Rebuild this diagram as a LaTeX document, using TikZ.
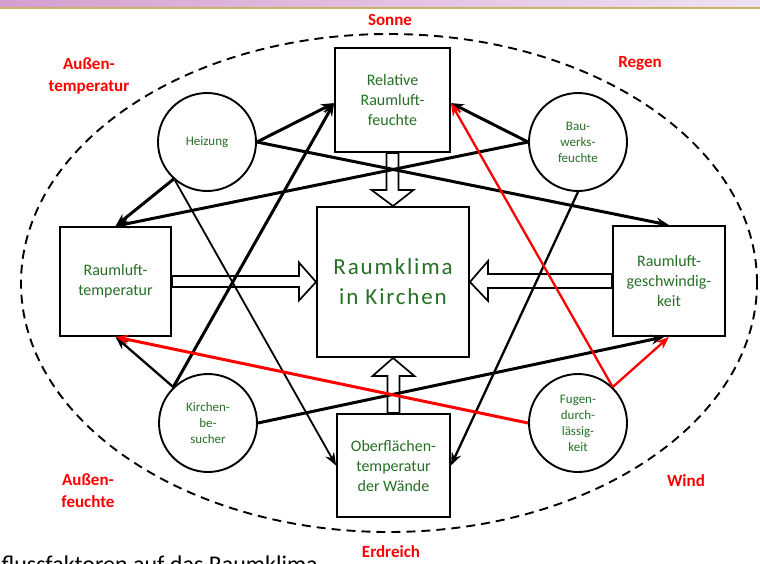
\documentclass[tikz,border=0pt]{standalone}
\usepackage{fontspec}
\setmainfont{Carlito}
\usetikzlibrary{arrows.meta,calc}
\definecolor{kgreen}{RGB}{38,112,38}
\definecolor{kred}{RGB}{255,0,0}
\definecolor{barL}{RGB}{214,158,208}
\definecolor{barR}{RGB}{238,226,242}
\definecolor{goldline}{RGB}{201,177,102}
\newcommand\bxfont{\fontsize{16}{20}\selectfont}
\newcommand\crfont{\fontsize{13}{16}\selectfont}
\newcommand\lbfont{\fontsize{17}{22}\selectfont\bfseries}
\newcommand\ctfont{\fontsize{23}{30}\selectfont\addfontfeature{LetterSpace=8}}
\begin{document}
\begin{tikzpicture}[x=1pt,y=-1pt,
  box/.style={draw,line width=1.9pt,fill=white,inner sep=0pt,align=center,text=kgreen,font=\bxfont},
  circ/.style={draw,circle,line width=1.9pt,fill=white,inner sep=0pt,minimum size=98pt,align=center,text=kgreen,font=\crfont},
  outer/.style={text=kred,font=\lbfont,align=center,inner sep=0pt},
  blockarr/.style={draw,line width=1.7pt,fill=white,line join=miter},
  khead/.style={-{Stealth[length=13pt,width=10pt,inset=4.5pt]}},
  conn/.style={khead,line width=3pt},
  connmid/.style={khead,line width=2.3pt},
  connthin/.style={khead,line width=1.8pt},
  redconn/.style={khead,draw=kred,line width=3pt},
  redmid/.style={khead,draw=kred,line width=2.3pt}]
\useasboundingbox (0,0) rectangle (760,563);
\clip (0,0) rectangle (760,563);
\fill[white] (0,0) rectangle (760,563);
% header bar
\shade[left color=barL, right color=barR] (0,0) rectangle (760,6.5);
\draw[goldline, line width=2pt] (0,8.3) -- (760,8.3);
% boundary ellipse
\draw[line width=1.9pt, dash pattern=on 9pt off 6pt] (389,283) ellipse [x radius=368pt, y radius=249pt];
% outer labels
\node[outer] (sonne) at (390,20) {Sonne};
\node[outer] (ausst) at (89,76) {Außen-\\temperatur};
\node[outer] (regen) at (640,63) {Regen};
\node[outer] (aussf) at (88,491) {Außen-\\feuchte};
\node[outer] (wind) at (686,481) {Wind};
\node[outer] (erd) at (391,552) {Erdreich};
% caption (cut off at the edges, as in the reference)
\node[anchor=base east, inner sep=0pt, font=\fontsize{24}{28}\selectfont] (cap) at (318,572) {Einflussfaktoren auf das Raumklima};
% boxes
\node[box, minimum width=152pt, minimum height=150pt, font=\ctfont] (kl) at (393,282) {Raumklima\\in Kirchen};
\node[box, minimum width=115pt, minimum height=104pt] (rel) at (392.5,100) {Relative\\Raumluft-\\feuchte};
\node[box, minimum width=111pt, minimum height=109pt] (temp) at (115.5,281.5) {Raumluft-\\temperatur};
\node[box, minimum width=112pt, minimum height=110pt] (gesch) at (669,281) {Raumluft-\\geschwindig-\\keit};
\node[box, minimum width=113pt, minimum height=103pt] (ober) at (393.5,465.5) {Oberflächen-\\temperatur\\der Wände};
% circles
\node[circ] (heiz) at (207,142) {Heizung};
\node[circ] (bau) at (578,142) {Bau-\\werks-\\feuchte};
\node[circ] (kirch) at (208,423) {Kirchen-\\be-\\sucher};
\node[circ] (fug) at (578,423) {Fugen-\\durch-\\lässig-\\keit};
% block arrows into the centre
\filldraw[blockarr] ($(rel.south)+(-6,0)$) -- ++(0,37) -- ++(-15,0) -- (kl.north) -- ($(rel.south)+(21,37)$) -- ++(-15,0) -- ($(rel.south)+(6,0)$) -- cycle;
\filldraw[blockarr] ($(temp.east)+(0,-5.5)$) -- ++(127,0) -- ++(0,-13.5) -- (kl.west) -- ($(temp.east)+(127,19)$) -- ++(0,-13.5) -- ($(temp.east)+(0,5.5)$) -- cycle;
\filldraw[blockarr] ($(gesch.west)+(0,-7)$) -- ++(-124,0) -- ++(0,-13) -- (kl.east) -- ($(gesch.west)+(-124,20)$) -- ++(0,-13) -- ($(gesch.west)+(0,7)$) -- cycle;
\filldraw[blockarr] ($(ober.north)+(-6,0)$) -- ++(0,-37) -- ++(-15,0) -- (kl.south) -- ($(ober.north)+(21,-37)$) -- ++(-15,0) -- ($(ober.north)+(6,0)$) -- cycle;
% connectors
\draw[conn] (heiz.east) -- (rel.183);
\draw[conn] (heiz.east) -- (gesch.north);
\draw[conn] (heiz.228) -- (temp.north);
\draw[connthin] (heiz.230) -- (ober.west);
\draw[conn] (bau.west) -- (rel.-3);
\draw[conn] (bau.west) -- (temp.north);
\draw[connmid] (bau.south) -- (ober.east);
\draw[conn] (kirch.134) -- (rel.183);
\draw[connmid] (kirch.134) -- (temp.south);
\draw[conn] (kirch.east) -- (gesch.-95);
\draw[redconn] (fug.west) -- (temp.south);
\draw[redmid] (fug.46) -- (rel.-3);
\draw[redmid] (fug.46) -- (gesch.-90);
\end{tikzpicture}
\end{document}
